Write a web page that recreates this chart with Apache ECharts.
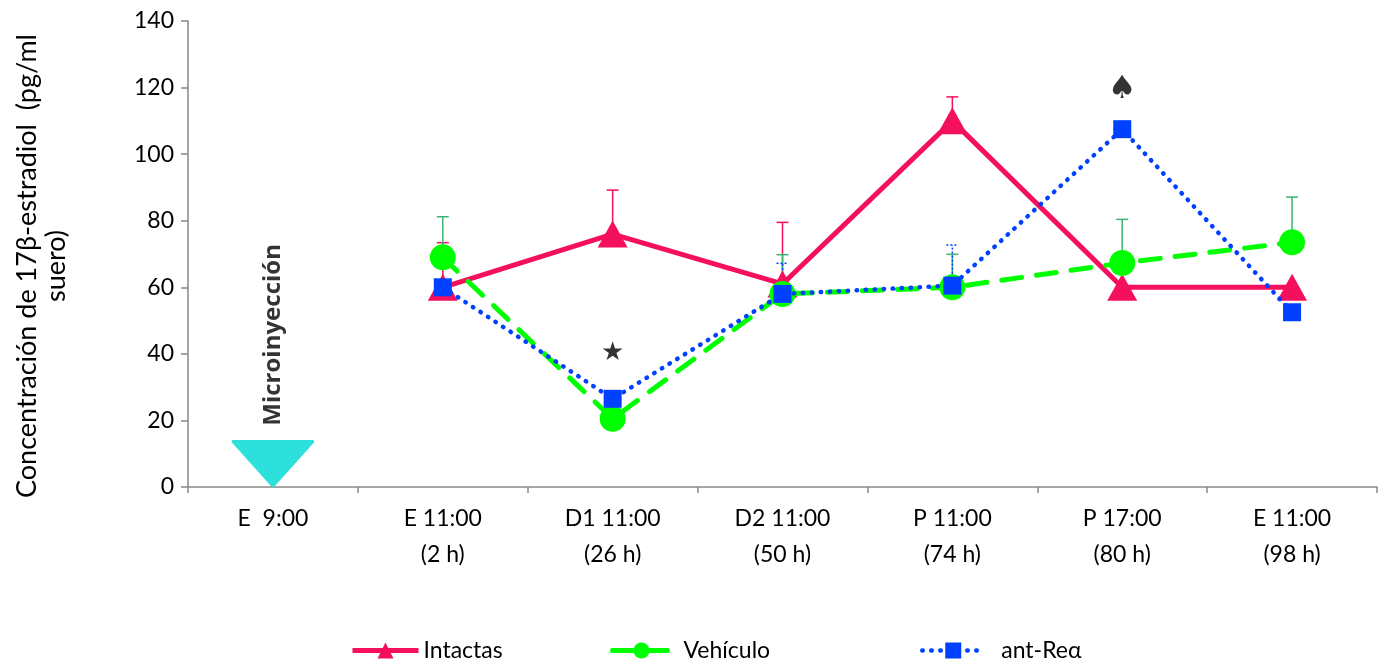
<!DOCTYPE html>
<html>
<head>
<meta charset="utf-8">
<script src="https://cdn.jsdelivr.net/npm/echarts@6/dist/echarts.min.js"></script>
<style>html,body{margin:0;padding:0;background:#fff}#c{width:1389px;height:664px}</style>
</head>
<body>
<div id="c"></div>
<script>
const categories = ['E  9:00','E 11:00\n(2 h)','D1 11:00\n(26 h)','D2 11:00\n(50 h)','P 11:00\n(74 h)','P 17:00\n(80 h)','E 11:00\n(98 h)'];
const intactas = [null, 60, 76, 61, 110, 60, 60];
const vehiculo = [null, 69, 20.5, 58, 60, 67.3, 73.5];
const antRe = [null, 60, 26.5, 58, 60.5, 107.5, 52.5];
const intactasErrTop = [null, 73.4, 89.2, 79.5, 117.2, null, null];
const vehiculoErrTop = [null, 81.2, null, 69.8, 69.9, 80.4, 87.1];
const antReErrTop = [null, null, null, 67.2, 72.7, null, null];
const yTicks = [0, 20, 40, 60, 80, 100, 120, 140];
const injection = { category: 0, top: 14 };
const annotations = [
  { category: 0, value: 45.7, text: 'Microinyección', kind: 'label' },
  { category: 2, value: 40.2, text: '★', kind: 'sym' },
  { category: 5, value: 119.5, text: '♠', kind: 'sym' }
];

const FONT = 'Lato';
const PINK = '#F50F5F', GREEN = '#00FF00', BLUE = '#0040FF', CYAN = '#2EE0DC';

function errData(vals, tops) {
  const out = [];
  vals.forEach((v, i) => { if (v != null && tops[i] != null) out.push([i, v, tops[i]]); });
  return out;
}
function errSeries(vals, tops, color, dash, z) {
  return {
    type: 'custom', z: z, silent: true,
    data: errData(vals, tops),
    renderItem: function (params, api) {
      const p0 = api.coord([api.value(0), api.value(1)]);
      const p1 = api.coord([api.value(0), api.value(2)]);
      const style = { stroke: color, lineWidth: 1.5, lineDash: dash };
      return { type: 'group', children: [
        { type: 'line', shape: { x1: p0[0], y1: p0[1], x2: p1[0], y2: p1[1] }, style: style },
        { type: 'line', shape: { x1: p1[0] - 6, y1: p1[1], x2: p1[0] + 6, y2: p1[1] }, style: style }
      ]};
    }
  };
}

const legendText = { fontFamily: FONT, fontSize: 23, color: '#000' };
const chart = echarts.init(document.getElementById('c'));
chart.setOption({
  animation: false,
  grid: { left: 188, right: 12, top: 21, bottom: 177, containLabel: false },
  xAxis: {
    type: 'category', data: categories, boundaryGap: true,
    axisLine: { lineStyle: { color: '#898989', width: 1.5 } },
    axisTick: { show: true, length: 6, lineStyle: { color: '#898989', width: 1.5 } },
    axisLabel: { color: '#000', fontFamily: FONT, fontSize: 23, lineHeight: 36, margin: 14, interval: 0 }
  },
  yAxis: {
    type: 'value', min: yTicks[0], max: yTicks[yTicks.length - 1], interval: 20,
    splitLine: { show: false },
    axisLine: { show: true, lineStyle: { color: '#898989', width: 1.5 } },
    axisTick: { show: true, length: 7, lineStyle: { color: '#898989', width: 1.5 } },
    axisLabel: { color: '#000', fontFamily: FONT, fontSize: 23, margin: 14 }
  },
  graphic: [{
    type: 'text', x: 42, y: 266, rotation: Math.PI / 2,
    style: { text: 'Concentración de 17β-estradiol  (pg/ml\nsuero)', fontFamily: FONT, fontSize: 27, fill: '#000',
      align: 'center', verticalAlign: 'middle', lineHeight: 29 }
  }],
  legend: [
    { data: ['Intactas'], left: 345, top: 634, itemWidth: 66, itemHeight: 20, textStyle: legendText, lineStyle: { width: 5 } },
    { data: ['Vehículo'], left: 605, top: 634, itemWidth: 58, itemHeight: 20, textStyle: Object.assign({ padding: [0,0,0,8] }, legendText), lineStyle: { width: 5 } },
    { data: ['ant-Reα'], left: 915, top: 634, itemWidth: 62, itemHeight: 20, textStyle: Object.assign({ padding: [0,0,0,12] }, legendText), lineStyle: { width: 4.5 } }
  ],
  series: [
    {
      type: 'custom', z: 1, silent: true,
      data: [[injection.category, injection.top]],
      renderItem: function (params, api) {
        const base = api.coord([api.value(0), 0]);
        const top = api.coord([api.value(0), api.value(1)]);
        const bw = api.size([1, 0])[0];
        const hw = bw * 0.235;
        return { type: 'polygon', shape: { points: [[top[0] - hw, top[1] + 1], [top[0] + hw, top[1] + 1], [base[0], base[1] - 1]] },
          style: { fill: CYAN, stroke: CYAN, lineWidth: 3, lineJoin: 'round' } };
      }
    },
    errSeries(intactas, intactasErrTop, PINK, null, 2),
    errSeries(vehiculo, vehiculoErrTop, '#3CB371', null, 2),
    errSeries(antRe, antReErrTop, BLUE, [2, 2], 2),
    {
      name: 'Intactas', type: 'line', data: intactas, z: 3,
      symbol: 'triangle', symbolSize: [30, 27],
      lineStyle: { color: PINK, width: 5 }, itemStyle: { color: PINK }
    },
    {
      name: 'Vehículo', type: 'line', data: vehiculo, z: 4,
      symbol: 'circle', symbolSize: 26,
      lineStyle: { color: GREEN, width: 5, type: [20, 15], cap: 'round' }, itemStyle: { color: GREEN }
    },
    {
      name: 'ant-Reα', type: 'line', data: antRe, z: 5,
      symbol: 'rect', symbolSize: 18,
      lineStyle: { color: BLUE, width: 4.5, type: [0.5, 8.5], cap: 'round' }, itemStyle: { color: BLUE }
    },
    {
      type: 'scatter', z: 6, silent: true, symbolSize: 0,
      data: annotations.map(a => ({
        value: [a.category, a.value],
        label: a.kind === 'label'
          ? { show: true, position: 'inside', rotate: 90, formatter: a.text, fontFamily: 'Open Sans', fontWeight: 'bold', fontSize: 24, color: '#000' }
          : { show: true, position: 'inside', formatter: a.text, fontFamily: 'DejaVu Sans', fontSize: a.text === '♠' ? 32 : 26, color: '#000' }
      }))
    }
  ]
});
</script>
</body>
</html>
